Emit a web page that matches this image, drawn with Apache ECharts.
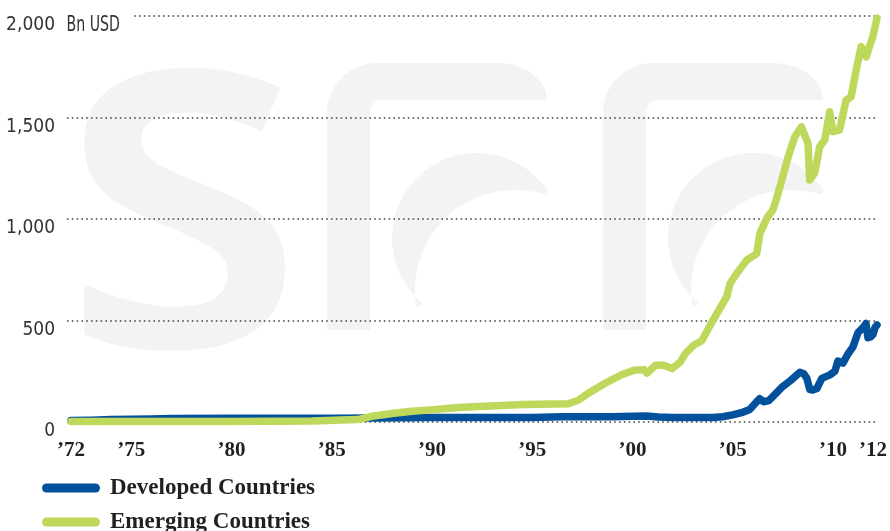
<!DOCTYPE html>
<html>
<head>
<meta charset="utf-8">
<script src="https://cdn.jsdelivr.net/npm/echarts@6/dist/echarts.min.js"></script>
<style>
  html, body { margin: 0; padding: 0; background: #fff; }
  #chart { width: 890px; height: 531px; }
</style>
</head>
<body>
<div id="chart"></div>
<script>
// year positions and values (Bn USD)
const devYears = [1972, 1973, 1974, 1975, 1976, 1977, 1980, 1985, 1987, 1990, 1995, 1996.5, 1999, 2000, 2000.7,
  2001.3, 2002, 2003, 2004, 2004.5, 2005, 2005.5, 2005.85, 2006.2, 2006.35, 2006.55, 2006.8, 2007.0, 2007.5,
  2007.9, 2008.2, 2008.35, 2008.55, 2008.7, 2008.85, 2009.0, 2009.2, 2009.45, 2009.85, 2010.1, 2010.25, 2010.5,
  2010.75, 2011.0, 2011.25, 2011.55, 2011.65, 2011.75, 2011.9, 2012.0, 2012.1, 2012.2]
const devValues = [8, 9, 12, 13, 15, 17, 18, 18, 20, 22, 22, 26, 26, 28, 30,
  25, 22, 22, 22, 26, 35, 48, 62, 100, 115, 100, 105, 125, 175,
  205, 232, 245, 238, 215, 160, 158, 165, 215, 232, 250, 300, 290,
  335, 370, 440, 470, 485, 415, 420, 432, 465, 478]

const emgYears = [1972, 1980, 1984, 1985.5, 1986.3, 1987, 1988, 1989, 1990.1, 1991.3, 1992.9, 1994.6, 1996.8,
  1997.3, 1997.9, 1998.75, 1999.4, 2000.07, 2000.57, 2000.73, 2001.15, 2001.56, 2001.98, 2002.39, 2002.64,
  2003.05, 2003.46, 2003.88, 2004.21, 2004.7, 2004.87, 2005.2, 2005.7, 2006.2, 2006.36, 2006.7, 2007.0, 2007.19,
  2007.77, 2008.1, 2008.43, 2008.76, 2008.84, 2009.09, 2009.34, 2009.59, 2009.84, 2010.0, 2010.33, 2010.66,
  2010.91, 2011.16, 2011.41, 2011.66, 2011.82, 2011.99, 2012.2]
const emgValues = [3, 3, 5, 10, 12, 28, 42, 53, 61, 71, 79, 86, 90,
  107, 148, 197, 230, 255, 258, 241, 279, 279, 263, 296, 337,
  378, 400, 477, 534, 616, 682, 732, 797, 830, 929, 1003, 1044, 1100,
  1306, 1405, 1454, 1372, 1192, 1225, 1356, 1389, 1528, 1430, 1438, 1586,
  1602, 1734, 1849, 1799, 1849, 1898, 1989]

const xLabelYears = [1972, 1975, 1980, 1985, 1990, 1995, 2000, 2005, 2010, 2012]
const yLabels = ['0', '500', '1,000', '1,500', '2,000']
const seriesNames = ['Developed Countries', 'Emerging Countries']

const blue = '#03519c'
const green = '#bed85c'
const markGrey = '#f3f3f5'

const narrowFont = '"DejaVu Sans Condensed", "Liberation Sans Narrow", "DejaVu Sans", sans-serif'
const serifFont = '"Liberation Serif", serif'

const chart = echarts.init(document.getElementById('chart'))

const pillIcon = 'path://M4.5,0H53.5A4.5,4.5,0,0,1,53.5,9H4.5A4.5,4.5,0,0,1,4.5,0Z'

const legendFor = (name, top) => ({
  orient: 'vertical',
  left: 37,
  top: top,
  itemWidth: 58,
  itemHeight: 9,
  icon: pillIcon,
  data: [name],
  textStyle: {
    fontFamily: serifFont,
    fontWeight: 'bold',
    fontSize: 23,
    lineHeight: 24,
    color: '#231f20',
    padding: [0, 0, 0, 5]
  }
})

// background logo: stem with bar + crescent, drawn twice
function arcPts(cx, cy, rx, ry, a0, a1, n) {
  const pts = []
  for (let i = 0; i <= n; i++) {
    const a = a0 + (a1 - a0) * i / n
    pts.push([cx + rx * Math.cos(a), cy + ry * Math.sin(a)])
  }
  return pts
}
const stemPts = [[0, 267]]
  .concat(arcPts(50, 50, 50, 50, Math.PI, 1.5 * Math.PI, 12))
  .concat(arcPts(170, 37, 50, 37, -0.5 * Math.PI, 0, 10))
  .concat(arcPts(55, 49, 12, 12, -0.5 * Math.PI, -Math.PI, 6))
  .concat([[43, 267]])
const moonPts = arcPts(150, 175, 85, 85, -0.585, -4.02, 40)
  .concat(arcPts(188, 227, 100, 100, 2.96, 5.01, 30))
const logoPiece = (x, pts) => ({ type: 'polygon', x: x, y: 63, z: -10, silent: true,
  shape: { points: pts }, style: { fill: markGrey } })

const option = {
  backgroundColor: '#fff',
  animation: false,
  grid: { left: 67, right: 10, top: 16, bottom: 109 },
  graphic: [
    { type: 'text', x: 60, y: 202, z: -10, silent: true,
      style: { text: 's', font: '600 505px "Open Sans"', fill: markGrey, verticalAlign: 'middle' } },
    logoPiece(327, stemPts),
    logoPiece(327, moonPts),
    logoPiece(603, stemPts),
    logoPiece(603, moonPts),
    { type: 'text', x: 65, y: 15, z: 5, scaleX: 0.75,
      style: { text: 'Bn USD', fontFamily: narrowFont, fontSize: 21, fill: '#333',
        backgroundColor: '#fff', padding: [0, 16, 0, 2] } }
  ],
  legend: [legendFor(seriesNames[0], 471), legendFor(seriesNames[1], 505)],
  xAxis: {
    type: 'value',
    min: 1971.8,
    max: 2012.25,
    axisLine: { show: false },
    axisTick: { show: false },
    splitLine: { show: false },
    axisLabel: {
      customValues: xLabelYears,
      margin: 18,
      fontFamily: serifFont,
      fontWeight: 'bold',
      fontSize: 21,
      color: '#231f20',
      formatter: v => '\u2019' + String(v).slice(2)
    }
  },
  yAxis: {
    type: 'value',
    min: 0,
    max: 2000,
    interval: 500,
    axisLine: { show: false },
    axisTick: { show: false },
    axisLabel: {
      margin: 12,
      verticalAlign: 'top',
      fontFamily: narrowFont,
      fontSize: 19,
      color: '#333',
      formatter: v => yLabels[Math.round(v / 500)]
    },
    splitLine: {
      lineStyle: { color: '#444', width: 1.6, type: [1.6, 3.2] }
    }
  },
  series: [
    {
      name: seriesNames[0],
      type: 'line',
      data: devYears.map((y, i) => [y, devValues[i]]),
      showSymbol: false,
      color: blue,
      lineStyle: { color: blue, width: 7.5, cap: 'round', join: 'round' }
    },
    {
      name: seriesNames[1],
      type: 'line',
      data: emgYears.map((y, i) => [y, emgValues[i]]),
      showSymbol: false,
      color: green,
      lineStyle: { color: green, width: 7.5, cap: 'round', join: 'round' }
    }
  ]
}

chart.setOption(option)
window.addEventListener('resize', () => chart.resize())
</script>
</body>
</html>
